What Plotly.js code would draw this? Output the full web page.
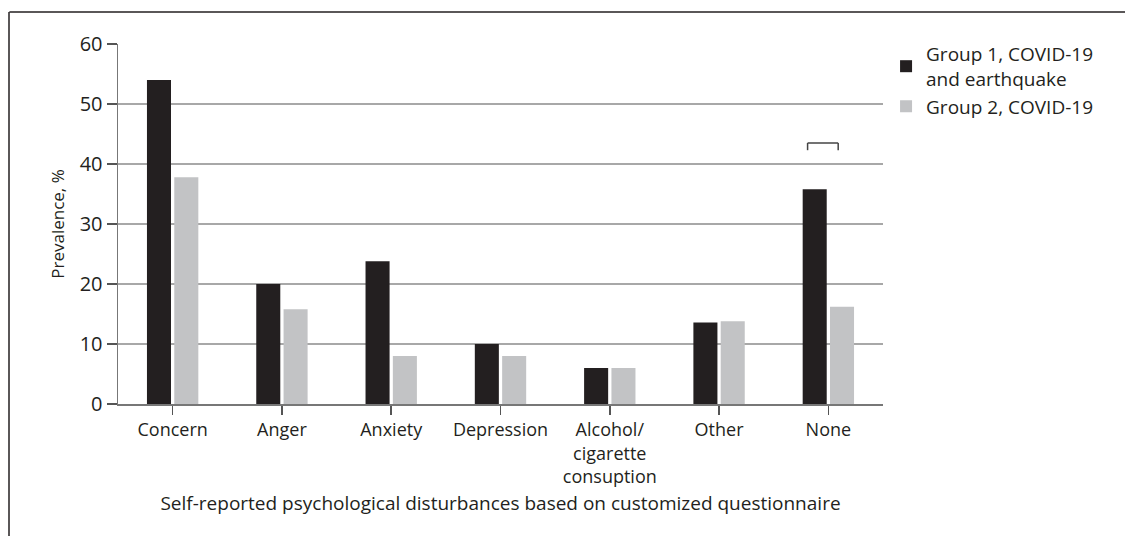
<!DOCTYPE html>
<html>
<head>
<meta charset="utf-8">
<script src="https://cdn.plot.ly/plotly-3.0.1.min.js"></script>
<style>html,body{margin:0;padding:0;background:#fff;}#chart{width:1125px;height:536px;}</style>
</head>
<body>
<div id="chart"></div>
<script>
var categories = ["Concern", "Anger", "Anxiety", "Depression", "Alcohol/<br>cigarette<br>consuption", "Other", "None"];
var group1Name = "Group 1, COVID-19<br>and earthquake";
var group2Name = "Group 2, COVID-19";
var group1Values = [54, 20, 23.8, 10, 6, 13.6, 35.8];
var group2Values = [37.8, 15.8, 8, 8, 6, 13.8, 16.2];
var yTicks = [0, 10, 20, 30, 40, 50, 60];
var bracketCategoryIndex = 6;
var bracketTop = 43.5;
var bracketLeg = 42.3;

var txt = "#231f20";
var fam = "Open Sans, Noto Sans, sans-serif";

var traces = [
  {type: "bar", name: group1Name, x: categories, y: group1Values, marker: {color: "#231f20"}},
  {type: "bar", name: group2Name, x: categories, y: group2Values, marker: {color: "#c2c3c5"}}
];

var bx0 = bracketCategoryIndex - 0.19, bx1 = bracketCategoryIndex + 0.09;
var layout = {
  width: 1125, height: 536,
  margin: {l: 118, r: 242, t: 44, b: 132},
  paper_bgcolor: "#fff", plot_bgcolor: "#fff",
  font: {family: fam, size: 18, color: txt},
  barmode: "group", bargap: 0.5, bargroupgap: 0.12,
  showlegend: true,
  legend: {x: 1.004, y: 1.025, xanchor: "left", yanchor: "top", font: {family: fam, size: 19, color: txt}, tracegroupgap: 13, itemwidth: 30},
  xaxis: {
    type: "category",
    showline: true, linecolor: "#777", linewidth: 1.5,
    ticks: "outside", ticklen: 9, tickcolor: "#555", tickwidth: 1.5,
    tickfont: {size: 18, color: txt},
    title: {text: "Self-reported psychological disturbances based on customized questionnaire", font: {size: 19, color: txt}, standoff: 10},
    automargin: false
  },
  yaxis: {
    range: [0, 60], tickvals: yTicks, ticktext: yTicks.map(String),
    showline: true, linecolor: "#777", linewidth: 1.5,
    ticks: "outside", ticklen: 10, tickcolor: "#555", tickwidth: 1.5,
    showgrid: true, gridcolor: "#a8a8a8", gridwidth: 1.5,
    zeroline: false,
    tickfont: {size: 20, color: txt},
    title: {text: "Prevalence, %", font: {size: 17, color: txt}, standoff: 10},
    automargin: false
  },
  shapes: [
    {type: "line", xref: "paper", yref: "paper", x0: -0.142, x1: 1.32, y0: 1.0 + 32/360, y1: 1.0 + 32/360, line: {color: "#231f20", width: 1.5}},
    {type: "line", xref: "paper", yref: "paper", x0: (9-118)/765, x1: (9-118)/765, y0: 1.0 + 32/360, y1: -132/360, line: {color: "#231f20", width: 1.5}},
    {type: "line", xref: "x", yref: "y", x0: bx0, x1: bx1, y0: bracketTop, y1: bracketTop, line: {color: "#444", width: 1.5}},
    {type: "line", xref: "x", yref: "y", x0: bx0, x1: bx0, y0: bracketTop, y1: bracketLeg, line: {color: "#444", width: 1.5}},
    {type: "line", xref: "x", yref: "y", x0: bx1, x1: bx1, y0: bracketTop, y1: bracketLeg, line: {color: "#444", width: 1.5}}
  ]
};

Plotly.newPlot("chart", traces, layout, {displayModeBar: false, staticPlot: true});
</script>
</body>
</html>
